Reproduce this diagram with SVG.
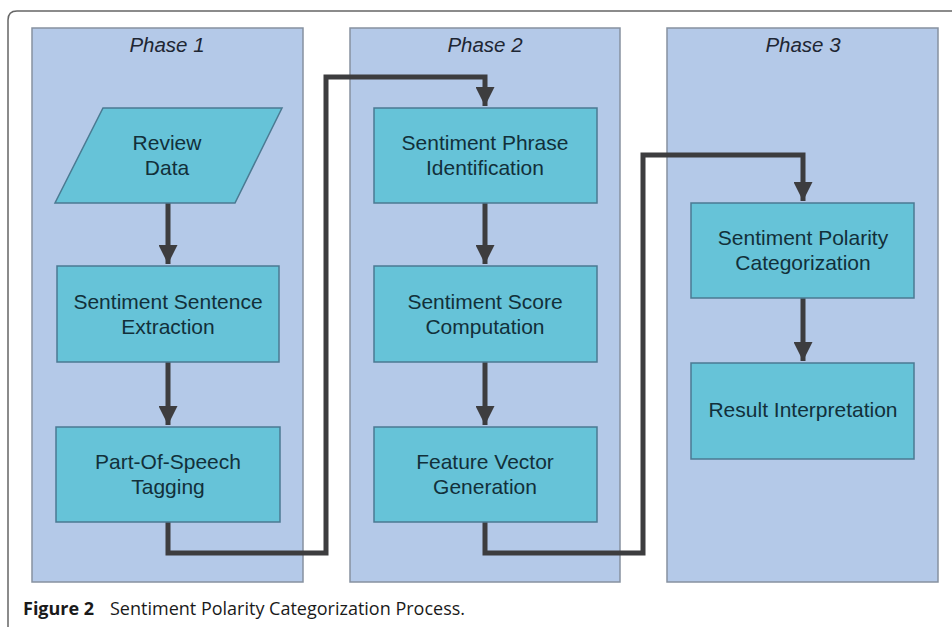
<svg xmlns="http://www.w3.org/2000/svg" width="952" height="627" viewBox="0 0 952 627">
<style>
.panel{fill:#b4c9e8;stroke:#8791a0;stroke-width:1.5}
.box{fill:#66c3d8;stroke:#4b7a92;stroke-width:1.5}
.ph{font-family:"Liberation Sans",Arial,sans-serif;font-style:italic;font-size:20.5px;fill:#1e2633;text-anchor:middle}
.t{font-family:"Liberation Sans",Arial,sans-serif;font-size:21px;fill:#12303a;text-anchor:middle}
.c{fill:none;stroke:#3d3d3f;stroke-width:5}
.cap{font-family:"Open Sans","Noto Sans",sans-serif;font-size:18px;fill:#1a1a1a}
</style>
<defs>
<marker id="ah" viewBox="0 0 10 10" refX="10" refY="5" markerWidth="3.8" markerHeight="3.8" orient="auto" markerUnits="strokeWidth">
<path d="M0,0 L10,5 L0,10 Z" fill="#3d3d3f"/>
</marker>
</defs>
<rect width="952" height="627" fill="#ffffff"/>
<path d="M952 11 H17 Q8 11 8 20 V627" fill="none" stroke="#666" stroke-width="1.5"/>

<g id="phase1">
<rect class="panel" x="32" y="28" width="271" height="554"/>
<text class="ph" x="167" y="52">Phase 1</text>
</g>
<g id="phase2">
<rect class="panel" x="350" y="28" width="270" height="554"/>
<text class="ph" x="485" y="52">Phase 2</text>
</g>
<g id="phase3">
<rect class="panel" x="667" y="28" width="271" height="554"/>
<text class="ph" x="803" y="52">Phase 3</text>
</g>

<g id="connectors">
<path class="c" d="M168 203 V264" marker-end="url(#ah)"/>
<path class="c" d="M168 362 V425" marker-end="url(#ah)"/>
<path class="c" d="M485 203 V264" marker-end="url(#ah)"/>
<path class="c" d="M485 362 V425" marker-end="url(#ah)"/>
<path class="c" d="M803 298 V361" marker-end="url(#ah)"/>
<path class="c" d="M168 522 V553 H326 V77 H485 V106" marker-end="url(#ah)" stroke-linejoin="miter"/>
<path class="c" d="M485 522 V553 H643 V155 H803 V201" marker-end="url(#ah)" stroke-linejoin="miter"/>
</g>

<g id="review-data">
<polygon class="box" points="103,108 282,108 235,203 55,203"/>
<text class="t" x="167" y="150">Review</text>
<text class="t" x="167" y="175">Data</text>
</g>
<g id="sentence-extraction">
<rect class="box" x="57" y="266" width="222" height="96"/>
<text class="t" x="168" y="309">Sentiment Sentence</text>
<text class="t" x="168" y="334">Extraction</text>
</g>
<g id="pos-tagging">
<rect class="box" x="56" y="427" width="224" height="95"/>
<text class="t" x="168" y="469">Part-Of-Speech</text>
<text class="t" x="168" y="494">Tagging</text>
</g>
<g id="phrase-identification">
<rect class="box" x="374" y="108" width="223" height="95"/>
<text class="t" x="485" y="150">Sentiment Phrase</text>
<text class="t" x="485" y="175">Identification</text>
</g>
<g id="score-computation">
<rect class="box" x="374" y="266" width="223" height="96"/>
<text class="t" x="485" y="309">Sentiment Score</text>
<text class="t" x="485" y="334">Computation</text>
</g>
<g id="feature-vector">
<rect class="box" x="374" y="427" width="223" height="95"/>
<text class="t" x="485" y="469">Feature Vector</text>
<text class="t" x="485" y="494">Generation</text>
</g>
<g id="polarity-categorization">
<rect class="box" x="691" y="203" width="223" height="95"/>
<text class="t" x="803" y="245">Sentiment Polarity</text>
<text class="t" x="803" y="270">Categorization</text>
</g>
<g id="result-interpretation">
<rect class="box" x="691" y="363" width="223" height="96"/>
<text class="t" x="803" y="417">Result Interpretation</text>
</g>

<text class="cap" y="615"><tspan x="23" font-weight="bold">Figure 2</tspan><tspan x="110">Sentiment Polarity Categorization Process.</tspan></text>
</svg>
